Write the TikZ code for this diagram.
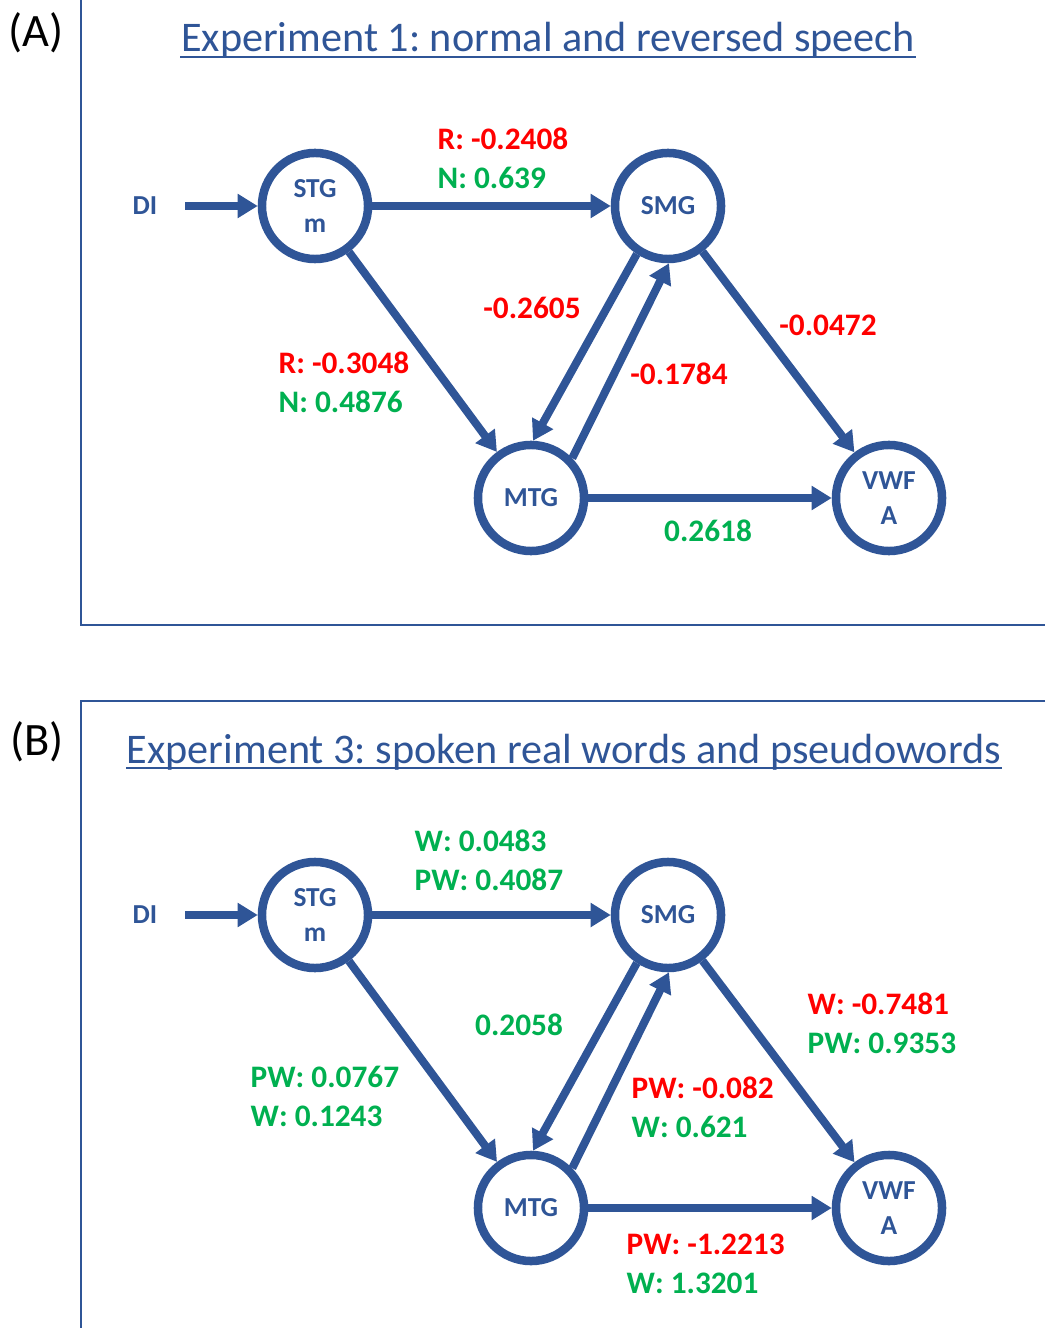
\documentclass[tikz,border=0pt]{standalone}
\usepackage{fontspec}
\setmainfont{Carlito}
\frenchspacing
\usetikzlibrary{arrows.meta}
\definecolor{areablue}{HTML}{2F5597}
\definecolor{negred}{HTML}{FF0000}
\definecolor{posgreen}{HTML}{00B050}
\tikzset{
  area/.style={circle, draw=areablue, line width=0.085cm, minimum size=1.06cm,
    inner sep=0pt, align=center, text=areablue,
    font=\fontsize{7.8}{9.96}\selectfont\bfseries},
  src/.style={text=areablue, inner ysep=0pt, inner xsep=0.27cm,
    font=\fontsize{7.8}{9.96}\selectfont\bfseries},
  link/.style={draw=areablue, line width=0.08cm,
    -{Triangle[length=0.2cm,width=0.23cm]}},
  wt/.style={inner sep=0pt, align=left,
    font=\fontsize{8.9}{11.1}\selectfont\bfseries},
  negwt/.style={wt, text=negred},
  poswt/.style={wt, text=posgreen},
  frame/.style={draw=areablue, line width=0.6pt},
  ttl/.style={text=areablue, inner sep=0pt, font=\fontsize{12}{14}\selectfont},
  ttlline/.style={draw=areablue, line width=0.6pt},
  tag/.style={inner sep=0pt, font=\fontsize{13.2}{15}\selectfont},
}
\begin{document}
\begin{tikzpicture}[x=0.01cm, y=-0.01cm]
\useasboundingbox (0,0) rectangle (1045,1328);
% frames
\draw[frame] (81,0) -- (81,625) -- (1045,625);
\draw[frame] (1045,701) -- (81,701) -- (81,1328);
% (A) experiment 1
\node[tag] (tagA) at (36,33) {(A)};
\node[ttl, anchor=base] (ttlA) at (548,52) {Experiment 1: normal and reversed speech};
\draw[ttlline] ([yshift=-0.05cm]ttlA.base west) -- ([yshift=-0.05cm]ttlA.base east);
\node[src] (diA) at (145,206) {DI};
\node[area] (stgA) at (315,206) {STG\\m};
\node[area] (smgA) at (668,206) {SMG};
\node[area] (mtgA) at (531,498) {MTG};
\node[area] (vwfaA) at (889,498) {VWF\\A};
\draw[link] (diA.east) -- (stgA);
\draw[link] (stgA) -- (smgA);
\draw[link] (stgA) -- (mtgA);
\draw[link] (smgA.237) -- (mtgA.88);
\draw[link] (mtgA.44) -- (smgA.271);
\draw[link] (smgA) -- (vwfaA);
\draw[link] (mtgA) -- (vwfaA);
% weights A
\node[wt, anchor=west] (wStgSmgA) at (437,158.5) {\textcolor{negred}{R: -0.2408}\\\textcolor{posgreen}{N: 0.639}};
\node[wt, anchor=west] (wStgMtgA) at (278,382.5) {\textcolor{negred}{R: -0.3048}\\\textcolor{posgreen}{N: 0.4876}};
\node[negwt] (wSmgMtgA) at (532,308) {-0.2605};
\node[negwt] (wMtgSmgA) at (679,374) {-0.1784};
\node[negwt] (wSmgVwfaA) at (828,325) {-0.0472};
\node[poswt] (wMtgVwfaA) at (708,531) {0.2618};
% (B) experiment 3
\node[tag] (tagB) at (37,742) {(B)};
\node[ttl, anchor=base] (ttlB) at (564,763) {Experiment 3: spoken real words and pseudowords};
\draw[ttlline] ([yshift=-0.05cm]ttlB.base west) -- ([yshift=-0.05cm]ttlB.base east);
\node[src] (diB) at (145,915) {DI};
\node[area] (stgB) at (315,915) {STG\\m};
\node[area] (smgB) at (668,915) {SMG};
\node[area] (mtgB) at (531,1208) {MTG};
\node[area] (vwfaB) at (889,1208) {VWF\\A};
\draw[link] (diB.east) -- (stgB);
\draw[link] (stgB) -- (smgB);
\draw[link] (stgB) -- (mtgB);
\draw[link] (smgB.237) -- (mtgB.88);
\draw[link] (mtgB.44) -- (smgB.271);
\draw[link] (smgB) -- (vwfaB);
\draw[link] (mtgB) -- (vwfaB);
% weights B
\node[poswt, anchor=west] (wStgSmgB) at (414,860) {W: 0.0483\\PW: 0.4087};
\node[poswt, anchor=west] (wStgMtgB) at (250,1096.5) {PW: 0.0767\\W: 0.1243};
\node[poswt] (wSmgMtgB) at (519,1025) {0.2058};
\node[wt, anchor=west] (wMtgSmgB) at (631,1107.5) {\textcolor{negred}{PW: -0.082}\\\textcolor{posgreen}{W: 0.621}};
\node[wt, anchor=west] (wSmgVwfaB) at (807,1023.5) {\textcolor{negred}{W: -0.7481}\\\textcolor{posgreen}{PW: 0.9353}};
\node[wt, anchor=west] (wMtgVwfaB) at (626,1263.5) {\textcolor{negred}{PW: -1.2213}\\\textcolor{posgreen}{W: 1.3201}};
\end{tikzpicture}
\end{document}
